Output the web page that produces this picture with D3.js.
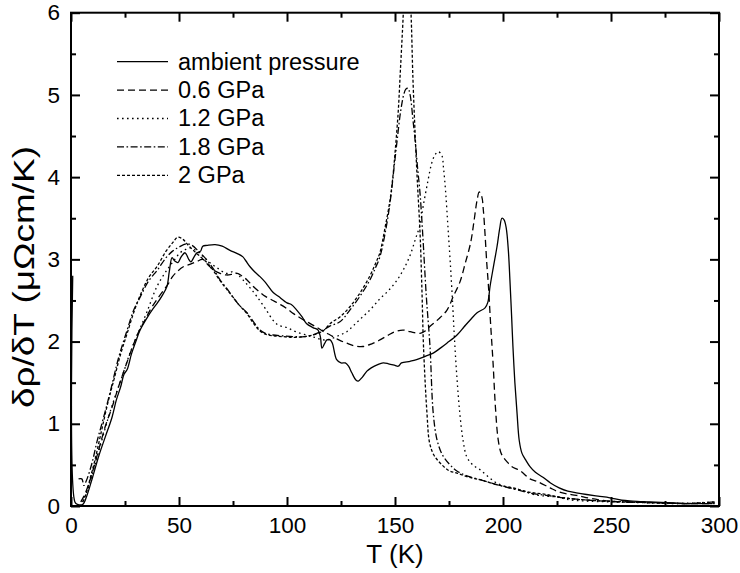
<!DOCTYPE html>
<html>
<head>
<meta charset="utf-8">
<script src="https://cdn.jsdelivr.net/npm/d3@7"></script>
<style>
  body { margin: 0; background: #fff; }
  text { font-family: "Liberation Sans", Arial, sans-serif; fill: #000; }
</style>
</head>
<body>
<script>
//////////////////////
// DATA (T in K, value in µΩcm/K)
const seriesNames = ["ambient pressure", "0.6 GPa", "1.2 GPa", "1.8 GPa", "2 GPa"];

const ambient = [[0.8,2.8],[1.8,0.05],[3,0.02],[5.5,0.02],[7,0.1],[10,0.35],[13,0.62],[16,0.85],[19,1.08],[21,1.29],[23,1.45],[24.5,1.6],[26,1.66],[28,1.85],[30,2.0],[32,2.14],[35,2.28],[38,2.4],[40,2.47],[42,2.55],[44.4,2.67],[45.5,2.85],[46.8,3.02],[48,2.98],[49.5,2.96],[51,3.03],[52.8,3.08],[54.5,3.0],[55.5,2.97],[57,3.03],[58.3,3.08],[60,3.1],[61,3.16],[63,3.17],[66.7,3.18],[70,3.16],[73.6,3.11],[77,3.07],[79.6,3.03],[81,2.98],[82.9,2.91],[85,2.85],[87.5,2.79],[90,2.72],[93.5,2.6],[96,2.55],[100,2.47],[102,2.45],[104.6,2.38],[107,2.3],[109,2.22],[112,2.17],[114.4,2.14],[115.5,2.05],[116.2,1.92],[117.5,1.98],[118.5,2.02],[120,2.02],[121,1.98],[123,1.78],[125,1.74],[127,1.74],[128.5,1.7],[130,1.62],[132,1.53],[133,1.52],[135,1.57],[137,1.64],[139,1.68],[142,1.72],[144.5,1.74],[147,1.73],[150,1.71],[151.5,1.7],[153,1.74],[157,1.76],[160,1.78],[164,1.82],[167.7,1.86],[171,1.92],[174,1.98],[178.7,2.08],[182,2.18],[184.7,2.26],[188,2.35],[191.7,2.41],[193,2.48],[194,2.67],[195.5,2.9],[197.2,3.15],[198.5,3.38],[199.5,3.5],[200.5,3.48],[201.5,3.38],[202.5,3.1],[203.2,2.75],[204,2.3],[204.6,1.94],[205.5,1.5],[206.5,1.13],[207.5,0.8],[208.8,0.64],[210.5,0.56],[212.5,0.48],[215,0.41],[218.5,0.35],[222,0.28],[226,0.22],[230,0.18],[234,0.16],[238.7,0.14],[244,0.12],[249.5,0.1],[255,0.07],[260,0.06],[268,0.05],[276,0.04],[286,0.03],[297,0.03]];

const gpa06 = [[4.5,0.05],[6,0.12],[8,0.25],[10,0.42],[13,0.7],[16,0.98],[19,1.2],[22,1.45],[25,1.68],[28,1.9],[31,2.1],[34,2.25],[37,2.4],[40,2.52],[43,2.63],[45,2.7],[47,2.79],[49.5,2.86],[52,2.91],[55,2.94],[58,2.97],[61,3.0],[63.5,2.93],[66,2.87],[69,2.83],[72,2.81],[75,2.82],[77,2.83],[79,2.8],[81.5,2.75],[84,2.68],[87.5,2.6],[90,2.55],[93.5,2.5],[97,2.45],[100,2.4],[103,2.34],[106,2.29],[110,2.23],[114,2.17],[117,2.12],[120,2.08],[124,2.02],[127.7,1.98],[131,1.95],[135,1.94],[139,1.97],[143,2.02],[147,2.08],[150,2.12],[153.7,2.14],[157,2.12],[161.6,2.1],[164,2.13],[166,2.18],[170,2.27],[174,2.38],[177,2.55],[180,2.72],[182.5,2.95],[185,3.2],[186.5,3.45],[188,3.72],[189,3.82],[190.2,3.76],[190.9,3.6],[191.7,3.3],[192.5,2.95],[193.2,2.7],[194.3,2.2],[195.4,1.74],[196.5,1.2],[197.7,0.82],[199,0.65],[200,0.6],[201.8,0.54],[204,0.48],[207.9,0.43],[212.5,0.33],[215.7,0.3],[221.8,0.22],[225,0.18],[229,0.15],[234,0.13],[241,0.09],[249.5,0.06],[258,0.05],[270,0.04],[285,0.03],[298,0.03]];

const gpa12 = [[5,0.05],[7,0.15],[10,0.4],[13,0.68],[17,1.05],[20,1.3],[24,1.6],[27.3,1.86],[31,2.1],[35,2.35],[39.8,2.67],[44.4,2.87],[47.5,2.98],[50.5,3.08],[53,3.12],[55,3.14],[57,3.12],[58.8,3.09],[61,3.04],[64.3,2.96],[68,2.89],[72,2.83],[75,2.85],[77,2.82],[79.6,2.75],[83,2.65],[86,2.55],[90,2.4],[93.5,2.26],[96,2.2],[100,2.17],[104,2.12],[109,2.08],[113,2.05],[116.7,2.02],[120,2.03],[124.5,2.08],[127.7,2.12],[131,2.2],[135,2.3],[139,2.4],[143,2.52],[147,2.62],[151,2.75],[154,2.88],[157,3.05],[159.5,3.25],[161.6,3.42],[163,3.64],[165,3.92],[167,4.17],[168.5,4.27],[170,4.31],[171.6,4.27],[172.5,4.1],[173.5,3.8],[174.5,3.4],[175.5,3.0],[176.5,2.55],[177.5,2.05],[178.7,1.55],[180,1.13],[181.5,0.8],[183.2,0.6],[186,0.5],[189.4,0.44],[193,0.36],[197,0.28],[203,0.22],[209,0.19],[214,0.14],[220,0.12],[225,0.11],[229.6,0.08],[238,0.06],[250,0.05],[265,0.04],[280,0.03],[298,0.05]];

const gpa18 = [[3.5,0.33],[5,0.33],[6,0.25],[7,0.3],[9.7,0.52],[12,0.78],[14.8,1.05],[18,1.37],[22,1.8],[26,2.14],[29,2.38],[32,2.54],[36,2.74],[40,2.87],[44,3.02],[47,3.1],[50,3.15],[53.7,3.19],[56,3.17],[59,3.1],[63,2.99],[66,2.88],[69,2.75],[72,2.65],[75,2.54],[78,2.44],[81.5,2.35],[84.5,2.24],[87.5,2.14],[90,2.1],[93.5,2.08],[98,2.07],[103,2.06],[108,2.06],[112,2.08],[116.7,2.14],[120,2.19],[124.5,2.24],[129,2.38],[134,2.56],[138.4,2.75],[141,2.9],[143,3.03],[146,3.4],[148,3.75],[149.5,4.1],[151,4.45],[152.5,4.78],[154,5.0],[155,5.07],[156,5.08],[157,5.0],[158.3,4.7],[159.3,4.45],[160.5,4.1],[161.6,3.8],[162.8,3.32],[164.5,2.55],[166.2,1.94],[167.7,1.13],[169.5,0.8],[172,0.62],[175.5,0.5],[179,0.42],[184,0.36],[189.4,0.32],[197,0.26],[204.6,0.21],[212,0.16],[220,0.13],[228,0.1],[240,0.07],[255,0.05],[270,0.04],[285,0.03],[298,0.05]];

const gpa20 = [[5.5,0.05],[7,0.15],[9,0.35],[11,0.55],[14,0.9],[17,1.25],[20,1.55],[23,1.85],[26,2.1],[29,2.35],[32,2.56],[36,2.78],[40,2.92],[44,3.1],[47,3.2],[49.5,3.27],[52,3.24],[54,3.18],[57,3.1],[60,3.03],[63,2.96],[66,2.86],[69,2.74],[72,2.64],[75,2.54],[78,2.44],[81.5,2.34],[84.5,2.22],[87.5,2.13],[90,2.09],[93.5,2.07],[98,2.06],[103,2.05],[108,2.06],[112,2.08],[116.7,2.13],[120,2.22],[124.5,2.3],[129,2.42],[134,2.6],[138.4,2.8],[141,2.95],[143,3.08],[145.5,3.4],[147.7,3.72],[149,4.0],[150,4.29],[151.5,4.8],[152.5,5.3],[153.5,5.8],[154.3,6.2],[155.5,6.5],[156.7,6.3],[157.4,6.0],[158.3,5.2],[159.3,4.54],[160.3,3.97],[161.6,3.32],[162.5,2.6],[163.2,1.94],[164.8,1.13],[166,0.77],[168,0.62],[171,0.52],[175,0.43],[178.7,0.4],[184,0.35],[189.4,0.32],[197,0.26],[204.6,0.22],[212,0.17],[220,0.14],[228,0.1],[240,0.07],[255,0.05],[270,0.04],[285,0.03],[298,0.04]];

const xTicks = [0, 50, 100, 150, 200, 250, 300];
const yTicks = [0, 1, 2, 3, 4, 5, 6];
const xMinor = [25, 75, 125, 175, 225, 275];
const yMinor = [0.5, 1.5, 2.5, 3.5, 4.5, 5.5];
//////////////////////

const w = 740;
const h = 573;
const margin = {top: 12.7, right: 21, bottom: 67, left: 71};
const iw = w - margin.left - margin.right;
const ih = h - margin.top - margin.bottom;

const dashes = ["none", "7,4", "1.6,3.4", "7,2.5,1.6,2.5", "3,2"];
const allSeries = [ambient, gpa06, gpa12, gpa18, gpa20];

let svg = d3.select("body")
  .append("svg")
  .attr("width", w)
  .attr("height", h);

let xScale = d3.scaleLinear().domain([0, 300]).range([0, iw]);
let yScale = d3.scaleLinear().domain([0, 6]).range([ih, 0]);

let g = svg.append("g")
  .attr("transform", `translate(${margin.left},${margin.top})`);

g.append("clipPath").attr("id", "clip")
  .append("rect").attr("width", iw).attr("height", ih);

// curves
let line = d3.line()
  .x(d => xScale(d[0]))
  .y(d => yScale(d[1]))
  .curve(d3.curveCatmullRom.alpha(0.5));

g.append("g").attr("clip-path", "url(#clip)")
  .selectAll("path")
  .data(allSeries)
  .enter()
  .append("path")
  .attr("d", line)
  .attr("fill", "none")
  .attr("stroke", "#000")
  .attr("stroke-width", 1.3)
  .attr("stroke-dasharray", (d, i) => dashes[i]);

// axes, ticks point inward
function styleAxis(sel) {
  sel.select(".domain").remove();
  sel.selectAll(".tick line").attr("stroke", "#000").attr("stroke-width", 2);
  sel.selectAll("text").style("font-size", "22.5px").attr("font-family", null);
}

g.append("g")
  .attr("transform", `translate(0,${ih})`)
  .call(d3.axisBottom(xScale).tickValues(xTicks).tickSize(-9).tickPadding(11).tickFormat(d3.format("d")))
  .call(styleAxis);
g.append("g")
  .attr("transform", `translate(0,${ih})`)
  .call(d3.axisBottom(xScale).tickValues(xMinor).tickSize(-5).tickFormat(""))
  .call(styleAxis);
g.append("g")
  .call(d3.axisTop(xScale).tickValues(xTicks).tickSize(-9).tickFormat(""))
  .call(styleAxis);
g.append("g")
  .call(d3.axisTop(xScale).tickValues(xMinor).tickSize(-5).tickFormat(""))
  .call(styleAxis);

g.append("g")
  .call(d3.axisLeft(yScale).tickValues(yTicks).tickSize(-9).tickPadding(11).tickFormat(d3.format("d")))
  .call(styleAxis);
g.append("g")
  .call(d3.axisLeft(yScale).tickValues(yMinor).tickSize(-5).tickFormat(""))
  .call(styleAxis);
g.append("g")
  .attr("transform", `translate(${iw},0)`)
  .call(d3.axisRight(yScale).tickValues(yTicks).tickSize(-9).tickFormat(""))
  .call(styleAxis);
g.append("g")
  .attr("transform", `translate(${iw},0)`)
  .call(d3.axisRight(yScale).tickValues(yMinor).tickSize(-5).tickFormat(""))
  .call(styleAxis);

// frame
g.append("rect")
  .attr("width", iw)
  .attr("height", ih)
  .attr("fill", "none")
  .attr("stroke", "#000")
  .attr("stroke-width", 2);

// axis titles
svg.append("text")
  .attr("x", margin.left + iw / 2)
  .attr("y", 563)
  .attr("text-anchor", "middle")
  .style("font-size", "26px")
  .text("T (K)");

svg.append("text")
  .attr("transform", "translate(34,277) rotate(-90)")
  .attr("text-anchor", "middle")
  .attr("textLength", 262)
  .attr("lengthAdjust", "spacingAndGlyphs")
  .style("font-size", "29px")
  .text("δρ/δT (μΩcm/K)");

// legend
let legend = g.append("g").attr("transform", "translate(46,57)");
seriesNames.forEach((name, i) => {
  const ly = i * 28.4;
  legend.append("line")
    .attr("x1", 0).attr("x2", 51)
    .attr("y1", ly - 8).attr("y2", ly - 8)
    .attr("stroke", "#000")
    .attr("stroke-width", 1.3)
    .attr("stroke-dasharray", dashes[i]);
  legend.append("text")
    .attr("x", 61)
    .attr("y", ly)
    .style("font-size", "23.5px")
    .text(name);
});
</script>
</body>
</html>
